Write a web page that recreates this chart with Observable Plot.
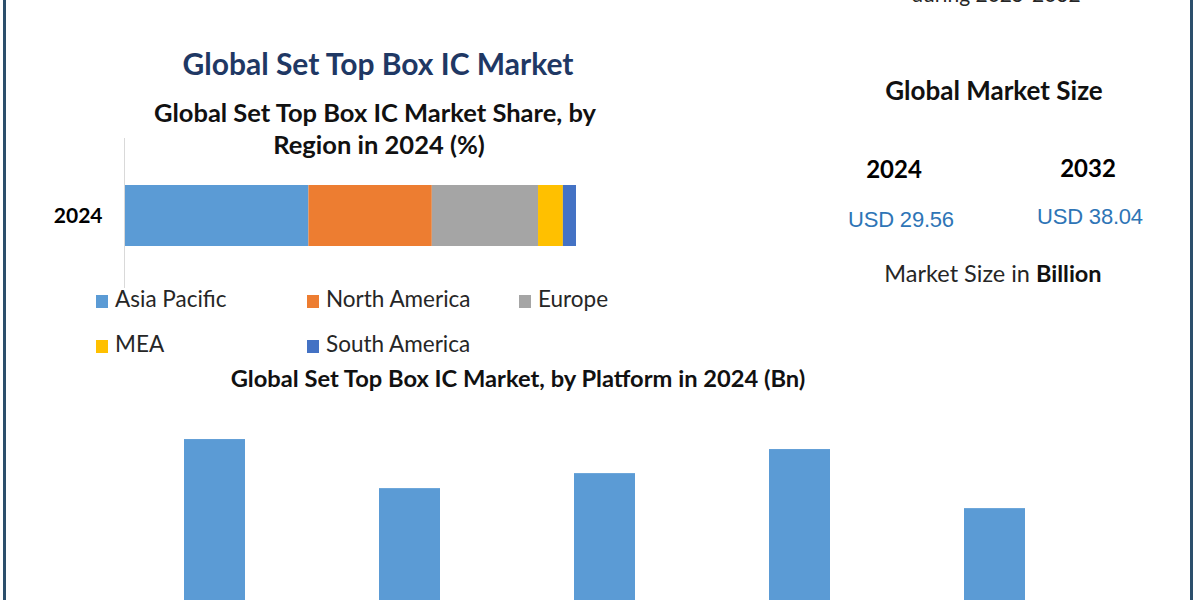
<!DOCTYPE html>
<html>
<head>
<meta charset="utf-8">
<script src="https://cdn.jsdelivr.net/npm/d3@7"></script>
<script src="https://cdn.jsdelivr.net/npm/@observablehq/plot@0.6"></script>
<style>
  html, body { margin: 0; padding: 0; background: #fff; overflow: hidden; }
  #page { position: relative; width: 1200px; height: 600px; overflow: hidden; background: #fff; font-family: Lato, "Open Sans", sans-serif; }
  .t { position: absolute; white-space: nowrap; line-height: 1; transform: translateX(-50%); }
  .frame { position: absolute; top: 0; height: 600px; width: 3px; background: #2c4f6c; }
  .sw { position: absolute; width: 12px; height: 13px; }
  .lg { position: absolute; white-space: nowrap; line-height: 1; font-size: 22.5px; color: #262626; }
  .plot { position: absolute; left: 0; }
</style>
</head>
<body>
<div id="page"></div>
<script>
// ---- Data ----
const regionYear = ["2024"];
const regions = ["Asia Pacific", "North America", "Europe", "MEA", "South America"];
const regionShare = [40.8, 27.3, 23.5, 5.5, 2.9]; // % share 2024
const regionColors = ["#5b9bd5", "#ed7d31", "#a5a5a5", "#ffc000", "#4472c4"];

const platforms = ["Cable", "Satellite", "IPTV", "DTT", "OTT/Hybrid"];
const platformValues = [6.75, 5.18, 5.66, 6.43, 4.54]; // USD Bn, 2024 (estimated)

const sizeYears = ["2024", "2032"];
const sizeValues = ["USD 29.56", "USD 38.04"];

const titleMain = "Global Set Top Box IC Market";
const titleRegion1 = "Global Set Top Box IC Market Share, by";
const titleRegion2 = "Region in 2024 (%)";
const titlePlatform = "Global Set Top Box IC Market, by Platform in 2024 (Bn)";
const topNote = "during 2025-2032";

// ---- Layout helpers ----
const page = document.getElementById("page");
function text(str, cx, baseline, size, opts = {}) {
  const d = document.createElement("div");
  d.className = "t";
  d.textContent = str;
  const family = opts.family || "Lato";
  // Lato: baseline ≈ top + 0.887em with line-height 1; Liberation Sans ≈ top + 0.855em
  const k = family.startsWith("Liberation") ? 0.855 : 0.887;
  d.style.left = cx + "px";
  d.style.top = (baseline - k * size) + "px";
  d.style.fontSize = size + "px";
  d.style.fontFamily = family;
  d.style.fontWeight = opts.weight || 400;
  d.style.color = opts.color || "#000";
  if (opts.ls) d.style.letterSpacing = opts.ls;
  page.appendChild(d);
  return d;
}

// frame lines
for (const x of [3, 1190]) {
  const f = document.createElement("div");
  f.className = "frame";
  f.style.left = x + "px";
  page.appendChild(f);
}

// titles
text(topNote, 996, 2, 21, {color: "#262626"});
text(titleMain, 378, 75, 30, {weight: 700, color: "#1f3864"});
text(titleRegion1, 375, 123, 25.5, {weight: 700, color: "#111"});
text(titleRegion2, 379, 155, 25.5, {weight: 700, color: "#111"});
text(titlePlatform, 518, 388, 23.7, {weight: 700, color: "#111"});

// right panel
text("Global Market Size", 994, 100, 26, {weight: 700, color: "#111"});
const sizeCx = [[894, 178], [1088, 177]];
const valCx = [[901, 228], [1090, 225]];
sizeYears.forEach((y, i) => text(y, sizeCx[i][0], sizeCx[i][1], 24, {weight: 700, color: "#000"}));
sizeValues.forEach((v, i) => text(v, valCx[i][0], valCx[i][1], 22, {family: "Liberation Sans", color: "#2e75b6", ls: "-0.2px"}));
const ms = text("Market Size in ", 993, 283, 23.5, {color: "#262626"});
const b = document.createElement("b");
b.textContent = "Billion";
b.style.color = "#111";
ms.appendChild(b);

// ---- Stacked region bar ----
const regionData = regions.map((r, i) => ({year: regionYear[0], region: r, share: regionShare[i]}));
const stacked = Plot.plot({
  width: 620,
  height: 150,
  marginLeft: 124,
  marginRight: 44,
  marginTop: 6,
  marginBottom: 0,
  style: {fontFamily: "Lato", background: "transparent", overflow: "visible"},
  x: {domain: [0, 100], axis: null},
  y: {domain: regionYear, padding: 0.4, label: null, tickSize: 0, tickPadding: 22},
  color: {domain: regions, range: regionColors},
  marks: [
    Plot.axisY({tickSize: 0, tickPadding: 22, fontSize: 21, fontWeight: 700, fill: "#000", label: null}),
    Plot.barX(regionData, Plot.stackX({x: "share", y: "year", fill: "region", order: regions})),
    Plot.ruleX([0], {stroke: "#d9d9d9", strokeWidth: 1, insetTop: -6})
  ]
});
stacked.classList.add("plot");
stacked.style.top = "138px";
page.appendChild(stacked);

// legend (HTML)
const legendPos = [[96, 308], [307, 308], [519, 308], [96, 353], [307, 353]];
regions.forEach((r, i) => {
  const [x, base] = legendPos[i];
  const s = document.createElement("div");
  s.className = "sw";
  s.style.left = x + "px";
  s.style.top = (base - 13) + "px";
  s.style.background = regionColors[i];
  page.appendChild(s);
  const l = document.createElement("div");
  l.className = "lg";
  l.textContent = r;
  l.style.left = (x + 19) + "px";
  l.style.top = (base - 0.887 * 22.5) + "px";
  page.appendChild(l);
});

// ---- Platform bars ----
const platformData = platforms.map((p, i) => ({platform: p, value: platformValues[i]}));
const bars = Plot.plot({
  width: 1200,
  height: 280,
  marginLeft: 84,
  marginRight: 76,
  marginTop: 0,
  marginBottom: 30,
  style: {fontFamily: "Lato", background: "transparent"},
  x: {domain: platforms, paddingInner: 0.688, paddingOuter: 0.5, axis: null},
  y: {domain: [0, 8], axis: null},
  marks: [
    Plot.barY(platformData, {x: "platform", y: "value", fill: "#5b9bd5"})
  ]
});
bars.classList.add("plot");
bars.style.top = "400px";
page.appendChild(bars);
</script>
</body>
</html>
